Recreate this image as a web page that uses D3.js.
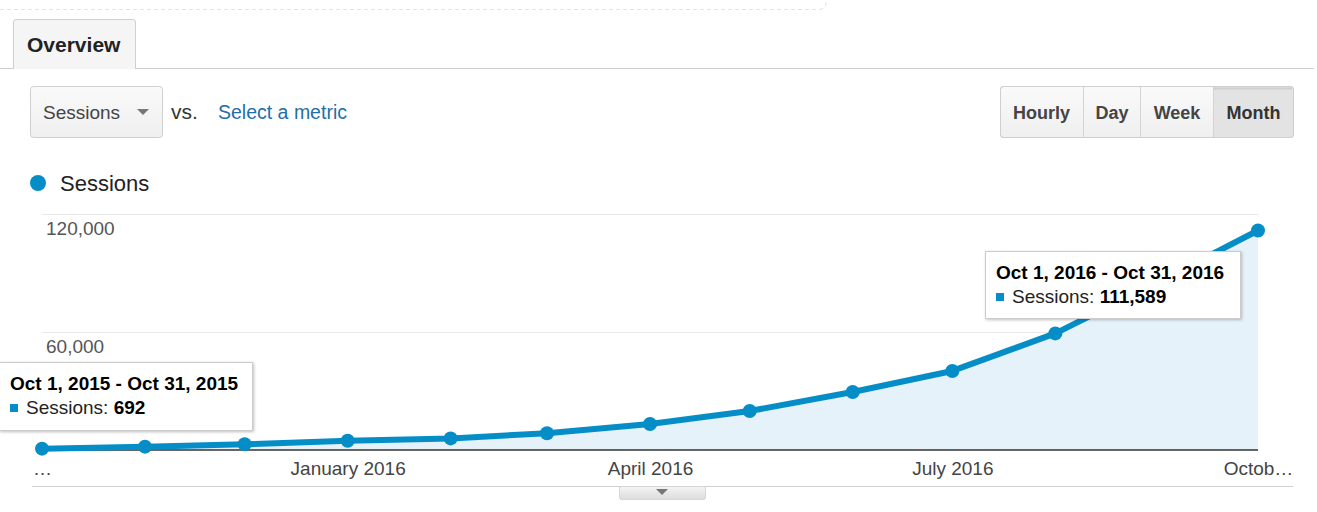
<!DOCTYPE html>
<html>
<head>
<meta charset="utf-8">
<script src="https://cdn.jsdelivr.net/npm/d3@7"></script>
<style>
  html, body { margin: 0; padding: 0; background: #fff; }
  svg { display: block; font-family: "Liberation Sans", Arial, sans-serif; }
</style>
</head>
<body>
<svg id="chart" width="1317" height="512"></svg>
<script>
// ---- data ----
const months = ["2015-10-01","2015-11-01","2015-12-01","2016-01-01","2016-02-01","2016-03-01",
                "2016-04-01","2016-05-01","2016-06-01","2016-07-01","2016-08-01","2016-09-01","2016-10-01"];
const sessions = [692, 1700, 2900, 4700, 5900, 8500, 13200, 19800, 29500, 40200, 59300, 85500, 111589];
const yTicks = [60000, 120000];
const xTickDates = ["2015-10-01","2016-01-01","2016-04-01","2016-07-01","2016-10-01"];
const xTickLabels = ["…","January 2016","April 2016","July 2016","Octob…"];
const buttons = ["Hourly","Day","Week","Month"];

const parse = d3.timeParse("%Y-%m-%d");
const data = months.map((m, i) => ({ date: parse(m), value: sessions[i] }));

const svg = d3.select("#chart");
const blue = "#058dc7";

// defs
const defs = svg.append("defs");
const f = defs.append("filter").attr("id", "shadow").attr("x", "-10%").attr("y", "-20%").attr("width", "130%").attr("height", "150%");
f.append("feDropShadow").attr("dx", 1).attr("dy", 1).attr("stdDeviation", 1.5).attr("flood-color", "#000").attr("flood-opacity", 0.25);
const g1 = defs.append("linearGradient").attr("id", "btnGrad").attr("x1", 0).attr("y1", 0).attr("x2", 0).attr("y2", 1);
g1.append("stop").attr("offset", "0%").attr("stop-color", "#fafafa");
g1.append("stop").attr("offset", "100%").attr("stop-color", "#efefef");
const g2 = defs.append("linearGradient").attr("id", "handleGrad").attr("x1", 0).attr("y1", 0).attr("x2", 0).attr("y2", 1);
g2.append("stop").attr("offset", "0%").attr("stop-color", "#f4f4f4");
g2.append("stop").attr("offset", "100%").attr("stop-color", "#dcdcdc");

// top dashed border remnant
svg.append("path").attr("d", "M0,9.5 H818 Q826,9.5 826,2 V0")
  .attr("fill", "none").attr("stroke", "#e2e2e2").attr("stroke-dasharray", "4,3");

// tab
svg.append("line").attr("x1", 0).attr("x2", 1314).attr("y1", 68.5).attr("y2", 68.5).attr("stroke", "#cfcfcf");
svg.append("path").attr("d", "M13.5,69 V22 Q13.5,19.5 16,19.5 H133 Q135.5,19.5 135.5,22 V69")
  .attr("fill", "#f5f5f5").attr("stroke", "#cfcfcf");
svg.append("text").attr("x", 27).attr("y", 52).attr("font-size", 21).attr("font-weight", "bold")
  .attr("fill", "#222").text("Overview");

// metric dropdown
svg.append("rect").attr("x", 30.5).attr("y", 86.5).attr("width", 132).attr("height", 51).attr("rx", 3)
  .attr("fill", "url(#btnGrad)").attr("stroke", "#cfcfcf");
svg.append("text").attr("x", 43).attr("y", 119).attr("font-size", 19).attr("fill", "#444").text("Sessions");
svg.append("path").attr("d", "M137,109 L149,109 L143,115 Z").attr("fill", "#777");
svg.append("text").attr("x", 171).attr("y", 119).attr("font-size", 21).attr("fill", "#333").text("vs.");
svg.append("text").attr("x", 218).attr("y", 119).attr("font-size", 19.5).attr("fill", "#1f6fa8").text("Select a metric");

// period buttons
const bx = [1000, 1083, 1141, 1213, 1294];
const bg = svg.append("g");
bg.append("rect").attr("x", 1000.5).attr("y", 86.5).attr("width", 293).attr("height", 51).attr("rx", 3)
  .attr("fill", "url(#btnGrad)").attr("stroke", "#cfcfcf");
bg.append("path").attr("d", "M1213.5,87 H1290.5 Q1293,87 1293,89.5 V134.5 Q1293,137 1290.5,137 H1213.5 Z")
  .attr("fill", "#e3e3e3");
bg.append("line").attr("x1", 1214).attr("x2", 1292).attr("y1", 88.5).attr("y2", 88.5).attr("stroke", "#cfcfcf").attr("stroke-width", 2);
bg.append("rect").attr("x", 1000.5).attr("y", 86.5).attr("width", 293).attr("height", 51).attr("rx", 3)
  .attr("fill", "none").attr("stroke", "#cfcfcf");
[1083.5, 1140.5, 1213.5].forEach(x => bg.append("line").attr("x1", x).attr("x2", x).attr("y1", 87).attr("y2", 137).attr("stroke", "#d4d4d4"));
buttons.forEach((b, i) => {
  bg.append("text").attr("x", (bx[i] + bx[i + 1]) / 2).attr("y", 119).attr("text-anchor", "middle")
    .attr("font-size", 18).attr("font-weight", "bold").attr("fill", i === 3 ? "#333" : "#444").text(b);
});

// legend
svg.append("circle").attr("cx", 38).attr("cy", 183).attr("r", 8).attr("fill", blue);
svg.append("text").attr("x", 60).attr("y", 191).attr("font-size", 22).attr("fill", "#222").text("Sessions");

// scales
const x = d3.scaleTime().domain([parse(months[0]), parse(months[months.length - 1])]).range([42, 1258]);
const y = d3.scaleLinear().domain([0, 120000]).range([450, 214]);

// gridlines
svg.append("g").selectAll("line").data(yTicks).join("line")
  .attr("x1", 42).attr("x2", 1258).attr("y1", d => Math.round(y(d)) + 0.5).attr("y2", d => Math.round(y(d)) + 0.5)
  .attr("stroke", "#e8e8e8");
svg.append("g").selectAll("text").data(yTicks).join("text")
  .attr("x", 46).attr("y", d => y(d) + 21).attr("font-size", 19).attr("fill", "#555")
  .text(d => d3.format(",")(d));

// area
svg.append("path").datum(data)
  .attr("d", d3.area().x(d => x(d.date)).y0(y(0)).y1(d => y(d.value)))
  .attr("fill", "#e6f2fa");

// baseline
svg.append("line").attr("x1", 42).attr("x2", 1258).attr("y1", 450).attr("y2", 450)
  .attr("stroke", "#333").attr("stroke-width", 1.5);

// line
svg.append("path").datum(data)
  .attr("d", d3.line().x(d => x(d.date)).y(d => y(d.value)))
  .attr("fill", "none").attr("stroke", blue).attr("stroke-width", 6).attr("stroke-linejoin", "round");
svg.append("g").selectAll("circle").data(data).join("circle")
  .attr("cx", d => x(d.date)).attr("cy", d => y(d.value)).attr("r", 7).attr("fill", blue);

// x axis
const xAxis = d3.axisBottom(x).tickValues(xTickDates.map(parse))
  .tickFormat((d, i) => xTickLabels[i]).tickSize(0).tickPadding(0);
const xa = svg.append("g").attr("transform", "translate(0,461)").call(xAxis);
xa.select(".domain").remove();
xa.selectAll("text").attr("font-size", 19).attr("fill", "#444").attr("font-family", "Liberation Sans, Arial, sans-serif").attr("dy", "0.71em");

// bottom border + handle
svg.append("line").attr("x1", 32).attr("x2", 1293).attr("y1", 486.5).attr("y2", 486.5).attr("stroke", "#d0d0d0");
svg.append("rect").attr("x", 619.5).attr("y", 486.5).attr("width", 86).attr("height", 13).attr("rx", 2)
  .attr("fill", "url(#handleGrad)").attr("stroke", "#d6d6d6");
svg.append("path").attr("d", "M656,489 L668,489 L662,495 Z").attr("fill", "#777");

// tooltips
function tooltip(x0, y0, w, h, title, valueText) {
  const g = svg.append("g");
  g.append("rect").attr("x", x0 + 0.5).attr("y", y0 + 0.5).attr("width", w).attr("height", h)
    .attr("fill", "#fff").attr("stroke", "#cccccc").attr("filter", "url(#shadow)");
  g.append("text").attr("x", x0 + 11).attr("y", y0 + 28).attr("font-size", 19).attr("font-weight", "bold")
    .attr("fill", "#000").text(title);
  g.append("rect").attr("x", x0 + 11).attr("y", y0 + 42).attr("width", 8).attr("height", 8).attr("fill", blue);
  const t = g.append("text").attr("x", x0 + 27).attr("y", y0 + 52).attr("font-size", 19).attr("fill", "#222");
  t.append("tspan").text("Sessions: ");
  t.append("tspan").attr("font-weight", "bold").attr("fill", "#000").text(valueText);
}
tooltip(-1, 362, 253, 68, "Oct 1, 2015 - Oct 31, 2015", d3.format(",")(sessions[0]));
tooltip(985, 251, 255, 67, "Oct 1, 2016 - Oct 31, 2016", d3.format(",")(sessions[sessions.length - 1]));
</script>
</body>
</html>
